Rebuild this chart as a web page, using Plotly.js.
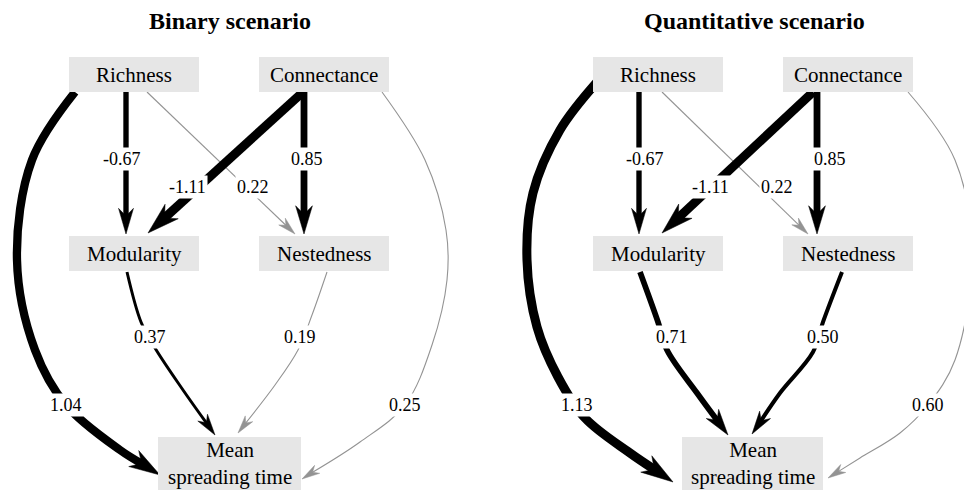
<!DOCTYPE html>
<html><head><meta charset="utf-8">
<script src="https://cdn.plot.ly/plotly-3.0.1.min.js"></script>
<style>html,body{margin:0;padding:0;background:#fff}</style>
</head><body><div id="chart" style="width:964px;height:490px"></div>
<script>
// ---------------- data ----------------
const scenarioTitles = ["Binary scenario", "Quantitative scenario"];
const nodeIds = ["R", "C", "M", "N", "T"];
const nodeLabels = ["Richness", "Connectance", "Modularity", "Nestedness", "Mean<br>spreading time"];
const edgeFrom = ["R", "R", "C", "C", "R", "C", "M", "N"];
const edgeTo   = ["M", "N", "M", "N", "T", "T", "T", "T"];
const coefBinary = [-0.67, 0.22, -1.11, 0.85, 1.04, 0.25, 0.37, 0.19];
const coefQuant  = [-0.67, 0.22, -1.11, 0.85, 1.13, 0.60, 0.71, 0.50];
const sigBinary  = [true, false, true, true, true, false, true, false];
const sigQuant   = [true, false, true, true, true, false, true, true];

// ---------------- layout geometry (pixel space) ----------------
const FONT = "Liberation Serif, Times New Roman, serif";
const BOX_FILL = "#e6e6e6";
const COL_SIG = "#000000", COL_NS = "#939393";
const panelGeom = [
  {
    titleX: 230,
    nodes: {R:[134,74.5,130,35], C:[324,74.5,130,35], M:[134,253.5,130,35], N:[324,253.5,130,35], T:[229.5,466,143,58]},
    paths: [
      [[126,92],[126,234]],
      [[147,92],[295,234]],
      [[303,92],[148,233]],
      [[304,92],[304,234]],
      [[75,92],[32,160],[17,260],[35,350],[66,405],[120,450],[160,475]],
      [[382,92],[425,160],[446,230],[447,280],[432,345],[405,405],[360,442],[302,479]],
      [[127,272],[141,322],[155,348],[183,390],[215,435]],
      [[327,272],[312,315],[298,350],[275,385],[238,433]]
    ],
    labels: [[122,159],[253,187],[187,187],[307,159],[66,405],[405,405],[150,337],[300,337]]
  },
  {
    titleX: 754,
    nodes: {R:[658,74.5,130,35], C:[848,74.5,130,35], M:[658,253.5,130,35], N:[848,253.5,130,35], T:[752.5,466,141,58]},
    paths: [
      [[639,92],[639,234]],
      [[662,92],[808,234]],
      [[813,92],[662,233]],
      [[817,92],[817,234]],
      [[597,82],[560,130],[533,193],[527,260],[537,327],[558,377],[585,418],[630,453],[673,482]],
      [[908,92],[955,160],[972,255],[955,360],[928,405],[900,433],[860,458],[828,478]],
      [[640,272],[658,322],[667,350],[697,393],[728,435]],
      [[842,272],[823,322],[813,352],[780,393],[752,434]]
    ],
    labels: [[645,159],[777,187],[710,187],[830,159],[577,405],[928,405],[672,337],[823,337]]
  }
];

const coefs = [coefBinary, coefQuant];
const sigs = [sigBinary, sigQuant];

const traces = [];
const shapes = [];
const annotations = [];

panelGeom.forEach((g, p) => {
  annotations.push({x: g.titleX, y: 21, xref:'x', yref:'y', text: '<b>' + scenarioTitles[p] + '</b>',
    showarrow:false, xanchor:'center', yanchor:'middle', font:{family:FONT, size:24, color:'#000'}});
  // edges
  coefs[p].forEach((c, i) => {
    const sig = sigs[p][i];
    const w = sig ? 8 * Math.abs(c) : 1.1;
    const col = sig ? COL_SIG : COL_NS;
    const pts = g.paths[i].map(q => q.slice());
    const tip = pts[pts.length - 1];
    const prev = pts[pts.length - 2];
    let dx = tip[0] - prev[0], dy = tip[1] - prev[1];
    const len = Math.hypot(dx, dy); dx /= len; dy /= len;
    const nx = -dy, ny = dx;
    const L = 16 + 1.8 * w, W = 4 + 0.65 * w, Nn = 0.3 * L;
    const shaftEnd = [tip[0] - (L - Nn - 1) * dx, tip[1] - (L - Nn - 1) * dy];
    const linePts = pts.slice(0, -1).concat([shaftEnd]);
    traces.push({type:'scatter', mode:'lines', x: linePts.map(q=>q[0]), y: linePts.map(q=>q[1]),
      line:{color:col, width:w, shape: linePts.length > 2 ? 'spline' : 'linear', smoothing:1},
      hoverinfo:'skip', showlegend:false});
    const head = [
      tip,
      [tip[0] - L*dx + W*nx, tip[1] - L*dy + W*ny],
      [tip[0] - (L-Nn)*dx, tip[1] - (L-Nn)*dy],
      [tip[0] - L*dx - W*nx, tip[1] - L*dy - W*ny],
      tip
    ];
    traces.push({type:'scatter', mode:'lines', x: head.map(q=>q[0]), y: head.map(q=>q[1]),
      fill:'toself', fillcolor:col, line:{color:col, width:0.5}, hoverinfo:'skip', showlegend:false});
    const lp = g.labels[i];
    annotations.push({x: lp[0], y: lp[1], xref:'x', yref:'y', text: c.toFixed(2), showarrow:false,
      xanchor:'center', yanchor:'middle', bgcolor:'#ffffff', borderpad:1,
      font:{family:FONT, size:18, color:'#000'}});
  });
  // nodes
  nodeIds.forEach((id, k) => {
    const n = g.nodes[id];
    shapes.push({type:'rect', xref:'x', yref:'y', layer:'above',
      x0: n[0] - n[2]/2, x1: n[0] + n[2]/2, y0: n[1] - n[3]/2, y1: n[1] + n[3]/2,
      fillcolor: BOX_FILL, line:{width:0}});
    const isLast = id === 'T';
    annotations.push({x: n[0], y: isLast ? n[1] - 3 : n[1], xref:'x', yref:'y', text: nodeLabels[k], showarrow:false,
      xanchor:'center', yanchor:'middle', borderpad:0, font:{family:FONT, size:21, color:'#000'}});
  });
});

const layout = {
  width:964, height:490, margin:{l:0, r:0, t:0, b:0},
  paper_bgcolor:'#ffffff', plot_bgcolor:'#ffffff',
  xaxis:{range:[0,964], visible:false, fixedrange:true},
  yaxis:{range:[490,0], visible:false, fixedrange:true},
  showlegend:false, shapes: shapes, annotations: annotations
};
Plotly.newPlot('chart', traces, layout, {staticPlot:true, displayModeBar:false});
</script>
</body></html>
